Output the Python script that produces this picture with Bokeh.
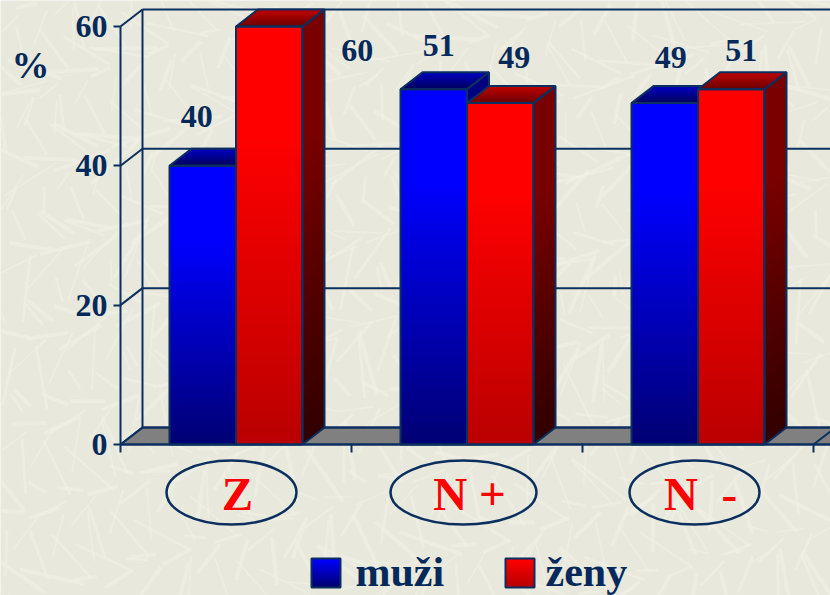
import math
from bokeh.plotting import figure
from bokeh.models import LinearAxis, FixedTicker, Range1d
from bokeh.core.properties import value
from bokeh.embed import file_html
from bokeh.resources import INLINE

categories = ["Z", "N +", "N\u00a0\u00a0-"]
muzi = [40, 51, 49]
zeny = [60, 49, 51]
y_ticks = [0, 20, 40, 60]
x_ticks = [0, 1, 2, 3]
legend_names = ["muži", "ženy"]
label_dx = [[-6, 88], [5, 14], [6, 10]]
label_dy = [[49, -24], [44, 46], [46, 39]]

NAVY = "#0b2f5e"
TEXT = "#05295a"
BG = "#e8e9dc"
FONT = value("Liberation Serif")
W, H = 830, 595
PX_PER_Y = 6.967
PX_PER_X = 231.0


def X(px):
    return (px - 120) / PX_PER_X


def Y(py):
    return (444 - py) / PX_PER_Y


DX, DY = 22 / PX_PER_X, 17 / PX_PER_Y
BAR_W = 66.5 / PX_PER_X

p = figure(width=W, height=H, output_backend="svg", toolbar_location=None,
           x_range=Range1d(X(0), X(830)), y_range=Range1d(Y(595), Y(0)),
           x_axis_type=None, y_axis_type=None, min_border=0,
           background_fill_color=BG, border_fill_color=BG)
p.outline_line_color = None
p.xgrid.visible = False
p.ygrid.visible = False

# background streaks (decorative paper texture)
sx0, sy0, sx1, sy1, sw = [], [], [], [], []
for i in range(800):
    cx = X(0) + ((i * 0.6180339) % 1) * (X(830) - X(0))
    cy = Y(595) + ((i * 0.7548777) % 1) * (Y(0) - Y(595))
    a = ((i * 0.5698403) % 1) * math.pi
    ln = 10 + ((i * 0.3247179) % 1) * 24
    sx0.append(cx - math.cos(a) * ln / PX_PER_X)
    sx1.append(cx + math.cos(a) * ln / PX_PER_X)
    sy0.append(cy - math.sin(a) * ln / PX_PER_Y)
    sy1.append(cy + math.sin(a) * ln / PX_PER_Y)
    sw.append(2 + (i % 3))
p.segment(sx0, sy0, sx1, sy1, line_color="#f1f2e7", line_width=sw, line_alpha=0.5)

xmax = X(830) + 0.2
top = max(y_ticks)
# floor
p.patch([0, 3 + 0.3, 3 + 0.3 + DX, DX], [0, 0, DY, DY], fill_color="#808080", line_color=NAVY, line_width=2)
# walls and grid
p.segment([DX] * 4, [t + DY for t in y_ticks], [xmax] * 4, [t + DY for t in y_ticks], line_color=NAVY, line_width=2)
p.segment([0] * 4, y_ticks, [DX] * 4, [t + DY for t in y_ticks], line_color=NAVY, line_width=2)
p.segment([DX], [DY], [DX], [top + DY], line_color=NAVY, line_width=2)
p.segment([3], [0], [3 + DX], [DY], line_color=NAVY, line_width=2)


def mix(c1, c2, t):
    return "#%02x%02x%02x" % tuple(round(a + (b - a) * t) for a, b in zip(c1, c2))


def bar(x0, v, front, side, cap):
    x1 = x0 + BAR_W
    n = 48
    # top cap: each band runs to the far edge so no seams show
    for k in range(12):
        a = k / 12
        t = mix(cap[0], cap[1], k / 11)
        p.patch([x0 + DX * a, x1 + DX * a, x1 + DX, x0 + DX],
                [v + DY * a, v + DY * a, v + DY, v + DY], fill_color=t, line_color=None)
    # side and front: each band runs down to the floor
    for k in range(n):
        a = k / n
        ya = v * (1 - a)
        fa = max(0, (a - 0.25) / 0.75)
        c = mix(side[0], side[1], fa)
        p.patch([x1, x1 + DX, x1 + DX, x1], [ya, ya + DY, DY, 0], fill_color=c, line_color=None)
        c = mix(front[0], front[1], fa)
        p.quad(left=[x0], right=[x1], top=[ya], bottom=[0], fill_color=c, line_color=None)
    # outlines
    p.patch([x0, x1, x1 + DX, x0 + DX], [v, v, v + DY, v + DY], fill_color=None, line_color=NAVY, line_width=2)
    p.patch([x1, x1 + DX, x1 + DX, x1], [v, v + DY, DY, 0], fill_color=None, line_color=NAVY, line_width=2)
    p.quad(left=[x0], right=[x1], top=[v], bottom=[0], fill_color=None, line_color=NAVY, line_width=2)


BLUE = [(0, 0, 255), (0, 0, 112)]
BLUE_S = [(0, 0, 128), (0, 0, 48)]
BLUE_C = [(0, 0, 96), (0, 0, 190)]
RED = [(255, 0, 0), (184, 0, 0)]
RED_S = [(122, 0, 0), (48, 0, 0)]
RED_C = [(110, 0, 0), (190, 0, 0)]

for i, cat in enumerate(categories):
    c = i + 0.5
    bar(c - BAR_W, muzi[i], BLUE, BLUE_S, BLUE_C)
    bar(c, zeny[i], RED, RED_S, RED_C)
    for j, v in enumerate((muzi[i], zeny[i])):
        bx = c - BAR_W / 2 + j * BAR_W
        p.text([bx + label_dx[i][j] / PX_PER_X], [v + label_dy[i][j] / PX_PER_Y], text=[str(v)],
               text_font=FONT, text_font_style="bold", text_font_size="32px", text_color=TEXT,
               text_align="center", text_baseline="middle")

# ovals with category names
oval_px = [(231, 130), (463, 146), (694, 130)]
for cat, (cx, w) in zip(categories, oval_px):
    p.ellipse([X(cx)], [Y(492)], width=w / PX_PER_X, height=64 / PX_PER_Y,
              fill_color=None, line_color=NAVY, line_width=2.5)
    p.text([X(cx + 6)], [Y(493)], text=[cat], text_font=FONT, text_font_style="bold",
           text_font_size="47px", text_color="#ff0000", text_align="center", text_baseline="middle")

# % sign
p.text([X(30)], [Y(64)], text=["%"], text_font=FONT, text_font_style="bold", text_font_size="38px",
       text_color=TEXT, text_align="center", text_baseline="middle")

# legend
for name, sx, tx, cols in zip(legend_names, (311, 505), (355, 545), (BLUE, RED)):
    n = 16
    for k in range(n):
        py0 = 558 + 29 * k / n
        c = mix(cols[0], cols[1], k / (n - 1))
        p.quad(left=[X(sx)], right=[X(sx + 29)], top=[Y(py0)], bottom=[Y(587)], fill_color=c, line_color=None)
    p.quad(left=[X(sx)], right=[X(sx + 29)], top=[Y(558)], bottom=[Y(587)], fill_color=None, line_color=NAVY, line_width=2)
    p.text([X(tx)], [Y(571)], text=[name], text_font=FONT, text_font_style="bold", text_font_size="42px",
           text_color=TEXT, text_align="left", text_baseline="middle")

# axes
ya = LinearAxis(ticker=FixedTicker(ticks=y_ticks), bounds=(0, 60), fixed_location=0)
ya.axis_line_color = NAVY
ya.axis_line_width = 2
ya.major_tick_line_color = NAVY
ya.major_tick_line_width = 2
ya.major_tick_out = 7
ya.major_tick_in = 0
ya.minor_tick_line_color = None
ya.major_label_text_font = "Liberation Serif"
ya.major_label_text_font_style = "bold"
ya.major_label_text_font_size = "32px"
ya.major_label_text_color = TEXT
ya.major_label_standoff = 6
p.add_layout(ya, "left")

xa = LinearAxis(ticker=FixedTicker(ticks=x_ticks), fixed_location=0, bounds=(0, 3.3))
xa.axis_line_color = NAVY
xa.axis_line_width = 2
xa.major_tick_line_color = NAVY
xa.major_tick_line_width = 2
xa.major_tick_out = 8
xa.major_tick_in = 0
xa.minor_tick_line_color = None
xa.major_label_overrides = {t: "" for t in x_ticks}
xa.major_label_standoff = 0
p.add_layout(xa, "below")

open("out.html", "w").write(file_html(p, INLINE))
